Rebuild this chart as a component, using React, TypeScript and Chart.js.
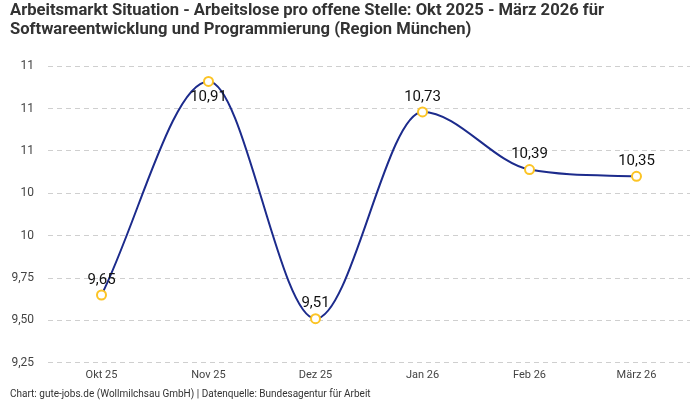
import { useEffect, useRef } from "react";
import { Chart, registerables, Plugin } from "chart.js";

Chart.register(...registerables);

const months = ["Okt 25", "Nov 25", "Dez 25", "Jan 26", "Feb 26", "März 26"];
const ratios = [9.65, 10.91, 9.51, 10.73, 10.39, 10.35];
const titleLines = [
  "Arbeitsmarkt Situation - Arbeitslose pro offene Stelle: Okt 2025 - März 2026 für",
  "Softwareentwicklung und Programmierung (Region München)",
];
const sourceNote = "Chart: gute-jobs.de (Wollmilchsau GmbH) | Datenquelle: Bundesagentur für Arbeit";

const FONT = "Roboto, 'Noto Sans', sans-serif";

const fmtValue = (v: number) => v.toFixed(2).replace(".", ",");

// values above each point, below when there's no room at the top
const valueLabels: Plugin<"line"> = {
  id: "valueLabels",
  afterDatasetsDraw(chart) {
    const { ctx, chartArea } = chart;
    const meta = chart.getDatasetMeta(0);
    ctx.save();
    ctx.font = `15px ${FONT}`;
    ctx.fillStyle = "#111";
    ctx.textAlign = "center";
    ctx.textBaseline = "middle";
    meta.data.forEach((pt, i) => {
      const above = pt.y - 26 > chartArea.top;
      ctx.fillText(fmtValue(ratios[i]), pt.x, above ? pt.y - 15 : pt.y + 16);
    });
    ctx.restore();
  },
};

export default function App() {
  const canvasRef = useRef<HTMLCanvasElement | null>(null);

  useEffect(() => {
    document.body.style.margin = "0";
    if (!canvasRef.current) return;

    const chart = new Chart(canvasRef.current, {
      type: "line",
      data: {
        labels: months,
        datasets: [
          {
            data: ratios,
            borderColor: "#1c2b8c",
            borderWidth: 2,
            cubicInterpolationMode: "monotone",
            pointRadius: 4.5,
            pointBorderWidth: 2,
            pointBackgroundColor: "#fff",
            pointBorderColor: "#fcc425",
          },
        ],
      },
      options: {
        animation: false,
        responsive: true,
        maintainAspectRatio: false,
        layout: { padding: { left: 10, right: 10, top: 0, bottom: 0 } },
        plugins: {
          legend: { display: false },
          tooltip: { enabled: false },
          title: {
            display: true,
            text: titleLines,
            align: "start",
            color: "#333",
            font: { family: FONT, size: 16.6, weight: "bold", lineHeight: 1.12 },
            padding: { top: 2, bottom: 27 },
          },
          subtitle: {
            display: true,
            position: "bottom",
            text: sourceNote,
            align: "start",
            color: "#333",
            font: { family: FONT, size: 10 },
            padding: { top: 0, bottom: 0 },
          },
        },
        scales: {
          x: {
            offset: true,
            grid: { display: false, drawTicks: false },
            border: { display: false },
            ticks: { color: "#444", font: { family: FONT, size: 11 }, padding: 6 },
          },
          y: {
            min: 9.25,
            max: 11,
            afterFit: (scale) => {
              scale.width = 38;
            },
            grid: { color: "#cfcfcf", drawTicks: false },
            border: { display: false, dash: [5, 4] },
            ticks: {
              stepSize: 0.25,
              padding: 14,
              color: "#444",
              font: { family: FONT, size: 12 },
              callback: (v) => {
                const n = Number(v);
                return n < 10 ? fmtValue(n) : String(Math.round(n));
              },
            },
          },
        },
      },
      plugins: [valueLabels],
    });

    return () => chart.destroy();
  }, []);

  return (
    <div style={{ width: 700, height: 400, position: "relative", background: "#fff" }}>
      <canvas ref={canvasRef} />
    </div>
  );
}
